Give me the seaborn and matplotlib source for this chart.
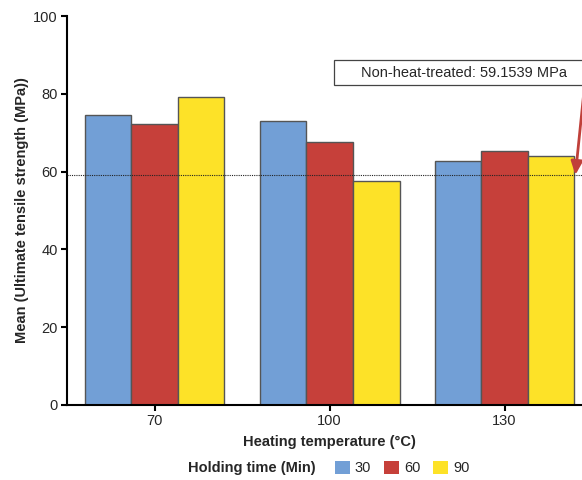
import pandas as pd
import matplotlib.pyplot as plt
import seaborn as sns
from matplotlib.patches import Patch, Rectangle

# data
temps = ['70', '100', '130']
hold_times = ['30', '60', '90']
uts_30 = [74.5, 72.9, 62.8]
uts_60 = [72.2, 67.7, 65.4]
uts_90 = [79.3, 57.5, 63.9]
untreated = 59.1539

colors = ['#729fd6', '#c6403a', '#fde228']

df = pd.DataFrame({
    'temp': temps * 3,
    'hold': [h for h in hold_times for _ in temps],
    'uts': uts_30 + uts_60 + uts_90,
})

sns.set_style('white')
plt.rcParams['font.family'] = ['Liberation Sans', 'DejaVu Sans']

fig = plt.figure(figsize=(5.82, 4.8), dpi=100)
# axes runs past the right edge, like the cropped original
ax = fig.add_axes([67 / 582, 1 - 405 / 480, 525 / 582, 389 / 480])

sns.barplot(data=df, x='temp', y='uts', hue='hold', order=temps, hue_order=hold_times,
            palette=colors, width=0.8, edgecolor='#555555', linewidth=1,
            saturation=1, legend=False, ax=ax)

ax.set_xlim(-0.5, 2.5)
ax.set_ylim(0, 100)
ax.set_yticks([0, 20, 40, 60, 80, 100])
ax.axhline(untreated, color='#222222', linestyle=(0, (1, 1)), linewidth=0.8, zorder=5)

for s in ['top', 'right']:
    ax.spines[s].set_visible(False)
for s in ['left', 'bottom']:
    ax.spines[s].set_linewidth(1.5)
    ax.spines[s].set_color('black')
ax.tick_params(axis='both', length=4.5, width=1.5, color='black', labelsize=10.5,
               direction='out', pad=2, bottom=True, left=True)

ax.set_xlabel('Heating temperature (°C)', fontsize=10.5, fontweight='bold', labelpad=5)
ax.set_ylabel('Mean (Ultimate tensile strength (MPa))', fontsize=10.5,
              fontweight='bold', labelpad=3)

# annotation box (cut by the right edge in the original)
ax.add_patch(Rectangle((1.026, 82.3), 1.5, 6.3, facecolor='white', edgecolor='#444444',
                       linewidth=0.9, clip_on=False, zorder=6))
ax.text(1.766, 85.4, 'Non-heat-treated: 59.1539 MPa', fontsize=10.5, ha='center', va='center',
        zorder=7)
ax.annotate('', xy=(2.405, untreated), xytext=(2.458, 82.3),
            arrowprops=dict(arrowstyle='-|>,head_length=0.8,head_width=0.35', color='#c0403a',
                            lw=2, shrinkA=0, shrinkB=0), zorder=6)

fig.text(188 / 582, 1 - 468 / 480, 'Holding time (Min)', fontsize=10.5, fontweight='bold',
         ha='left', va='center')
handles = [Patch(facecolor=c, edgecolor='none') for c in colors]
fig.legend(handles, hold_times, loc='center left', bbox_to_anchor=(335 / 582, 1 - 468 / 480),
           ncol=3, frameon=False, fontsize=10.5, handlelength=1.0, handleheight=1.0,
           handletextpad=0.35, columnspacing=0.9, borderpad=0, borderaxespad=0)

fig.savefig('out.png', dpi=100)
